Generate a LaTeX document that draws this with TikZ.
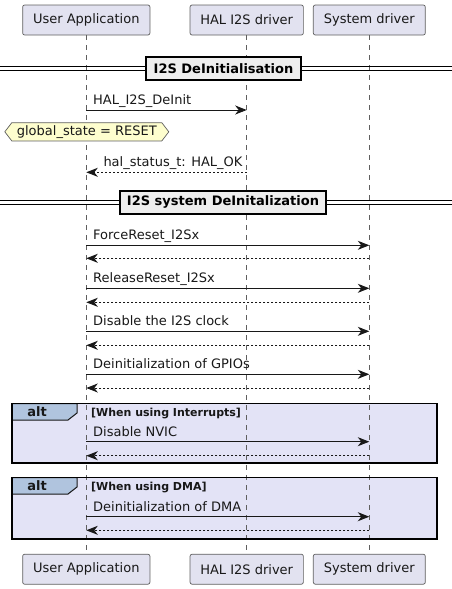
\documentclass[tikz,border=0pt]{standalone}
\usepackage{fontspec}
\setmainfont{DejaVu Sans}
\usetikzlibrary{arrows.meta,shapes.symbols}
\definecolor{partfill}{HTML}{E2E2F0}
\definecolor{partdraw}{HTML}{5F5F5F}
\definecolor{notefill}{HTML}{FEFECE}
\definecolor{altfill}{HTML}{E3E3F6}
\definecolor{tabfill}{HTML}{B0C4DE}
\definecolor{divfill}{HTML}{EEEEEE}
\definecolor{ink}{HTML}{181818}
\tikzset{
  part/.style={draw=partdraw, fill=partfill, rounded corners=2pt, minimum height=30pt,
    inner sep=0pt, font=\fontsize{13}{15}\selectfont, text=ink, line width=0.7pt},
  life/.style={draw=partdraw, line width=0.6pt, dash pattern=on 5pt off 5pt},
  msg/.style={draw=ink, line width=1pt, -{Stealth[length=11.5pt,width=9pt,inset=3.5pt]}},
  ret/.style={msg, dash pattern=on 2pt off 2pt},
  lbl/.style={anchor=base west, inner sep=0pt, font=\fontsize{13}{15}\selectfont, text=ink},
  divbox/.style={draw=black, fill=divfill, line width=1.8pt,
    font=\bfseries\fontsize{13}{15}\selectfont, inner sep=0pt, minimum height=23pt},
  divline/.style={draw=black, line width=1pt},
  altbox/.style={draw=black, fill=altfill, line width=1.8pt},
  tabshape/.style={draw=ink, fill=tabfill, line width=1pt},
  alttxt/.style={inner sep=0pt, font=\bfseries\fontsize{13}{15}\selectfont, text=ink},
  condtxt/.style={anchor=base west, inner sep=0pt, font=\bfseries\fontsize{11}{13}\selectfont, text=ink},
  notebox/.style={signal, signal to=west and east, signal pointer angle=105, draw=partdraw,
    fill=notefill, line width=0.7pt, minimum height=18.3pt, minimum width=164pt, inner sep=0pt,
    font=\fontsize{13}{15}\selectfont, text=ink}
}
\begin{document}
\begin{tikzpicture}[x=1pt,y=-1pt]
\useasboundingbox (0,0) rectangle (452,589);
% participants
\node[part, minimum width=127.3pt] (ut) at (86.3,20) {User Application};
\node[part, minimum width=113.3pt] (ht) at (246.7,20) {HAL I2S driver};
\node[part, minimum width=112pt] (st) at (369.3,20) {System driver};
\node[part, minimum width=127.3pt] (ub) at (86.3,569.2) {User Application};
\node[part, minimum width=113.3pt] (hb) at (246.7,569.2) {HAL I2S driver};
\node[part, minimum width=112pt] (sb) at (369.3,569.2) {System driver};
% alt boxes (behind lifelines)
\draw[altbox] (12.3,403.5) rectangle (436.7,463.3);
\draw[altbox] (12.3,477.5) rectangle (436.7,538.7);
% lifelines
\draw[life] (ut.south) -- (ub.north);
\draw[life] (ht.south) -- (hb.north);
\draw[life] (st.south) -- (sb.north);
% alt tabs
\draw[tabshape] (12.3,403.5) -- (77,403.5) -- (77,413) -- (68,420) -- (12.3,420) -- cycle;
\draw[altbox, fill=none] (12.3,403.5) rectangle (436.7,463.3);
\node[alttxt] (alt1) at (37,412) {alt};
\node[condtxt] (c1) at (91,416) {[When using Interrupts]};
\draw[tabshape] (12.3,477.5) -- (77,477.5) -- (77,487) -- (68,494) -- (12.3,494) -- cycle;
\draw[altbox, fill=none] (12.3,477.5) rectangle (436.7,538.7);
\node[alttxt] (alt2) at (37,486) {alt};
\node[condtxt] (c2) at (91,490) {[When using DMA]};
% dividers
\coordinate (d1l) at (0,68.7); \coordinate (d1r) at (452,68.7);
\draw[divline] ([yshift=2pt]d1l) -- ([yshift=2pt]d1r);
\draw[divline] ([yshift=-2pt]d1l) -- ([yshift=-2pt]d1r);
\node[divbox, minimum width=155pt] (div1) at (223.5,68.7) {I2S DeInitialisation};
\coordinate (d2l) at (0,202.3); \coordinate (d2r) at (452,202.3);
\draw[divline] ([yshift=2pt]d2l) -- ([yshift=2pt]d2r);
\draw[divline] ([yshift=-2pt]d2l) -- ([yshift=-2pt]d2r);
\node[divbox, minimum width=206pt] (div2) at (223,202.3) {I2S system DeInitalization};
% message endpoints
\coordinate (u1) at (86.3,110);   \coordinate (h1) at (246.7,110);
\coordinate (u1r) at (86.3,172.3); \coordinate (h1r) at (246.7,172.3);
\foreach \i/\y/\z in {2/245.3/258.3, 3/288.3/302.3, 4/331.3/345.3, 5/374.3/388, 6/441.7/455.7, 7/516.7/530.3}{
  \coordinate (u\i) at (86.3,\y); \coordinate (s\i) at (369.3,\y);
  \coordinate (u\i r) at (86.3,\z); \coordinate (s\i r) at (369.3,\z);
}
% messages
\draw[msg] (u1) -- (h1);
\node[lbl] (l1) at ([xshift=6.7pt,yshift=5.5pt]u1) {HAL\_I2S\_DeInit};
\node[notebox] (note) at (86.8,131.8) {global\_state = RESET};
\draw[ret] (h1r) -- (u1r);
\node[lbl] (l1r) at ([xshift=17pt,yshift=5.5pt]u1r) {hal\_status\_t: HAL\_OK};
\draw[msg] (u2) -- (s2);
\node[lbl] (l2) at ([xshift=6.7pt,yshift=5.5pt]u2) {ForceReset\_I2Sx};
\draw[ret] (s2r) -- (u2r);
\draw[msg] (u3) -- (s3);
\node[lbl] (l3) at ([xshift=6.7pt,yshift=5.5pt]u3) {ReleaseReset\_I2Sx};
\draw[ret] (s3r) -- (u3r);
\draw[msg] (u4) -- (s4);
\node[lbl] (l4) at ([xshift=6.7pt,yshift=5.5pt]u4) {Disable the I2S clock};
\draw[ret] (s4r) -- (u4r);
\draw[msg] (u5) -- (s5);
\node[lbl] (l5) at ([xshift=6.7pt,yshift=5.5pt]u5) {Deinitialization of GPIOs};
\draw[ret] (s5r) -- (u5r);
\draw[msg] (u6) -- (s6);
\node[lbl] (l6) at ([xshift=6.7pt,yshift=5.5pt]u6) {Disable NVIC};
\draw[ret] (s6r) -- (u6r);
\draw[msg] (u7) -- (s7);
\node[lbl] (l7) at ([xshift=6.7pt,yshift=5.5pt]u7) {Deinitialization of DMA};
\draw[ret] (s7r) -- (u7r);
\end{tikzpicture}
\end{document}
